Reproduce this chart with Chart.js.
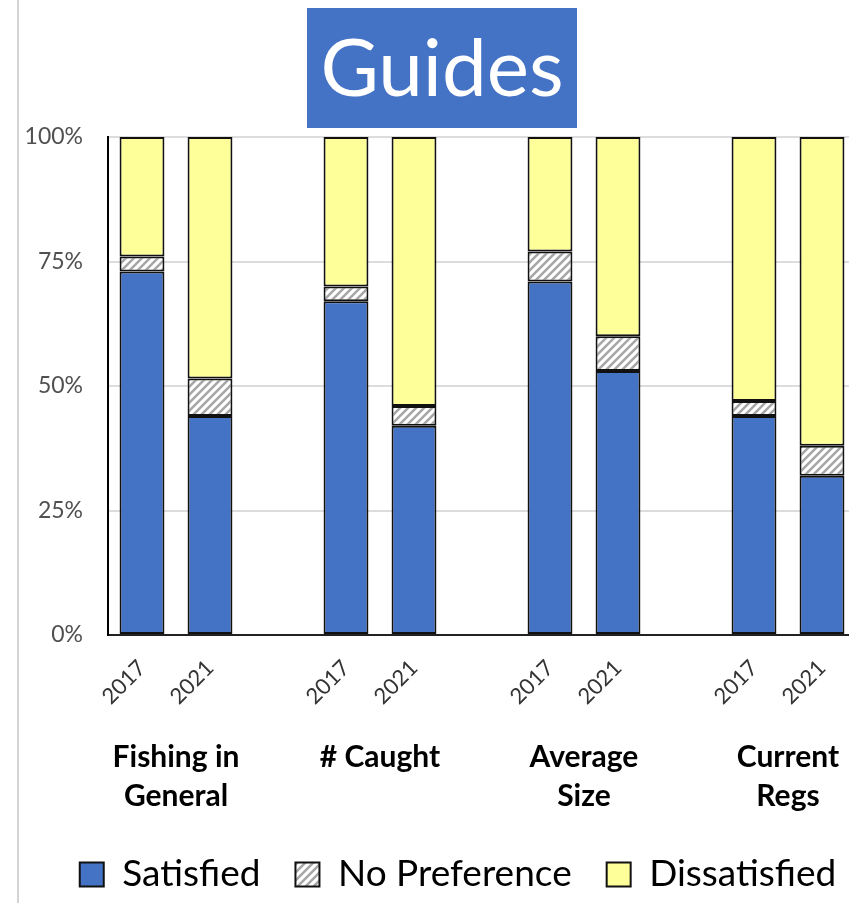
<!DOCTYPE html>
<html>
<head>
<meta charset="utf-8">
<title>Guides</title>
<script src="https://cdn.jsdelivr.net/npm/chart.js@4.4.1/dist/chart.umd.min.js"></script>
<style>
  html, body { margin: 0; padding: 0; background: #fff; overflow: hidden; }
  canvas { display: block; }
</style>
</head>
<body>
<canvas id="guides-chart" width="856" height="903"></canvas>
<script>
// bars: 2017/2021 pairs, blank slot between groups
const yearLabels = ['2017', '2021', '', '2017', '2021', '', '2017', '2021', '', '2017', '2021'];
const groupNames = [['Fishing in', 'General'], ['# Caught'], ['Average', 'Size'], ['Current', 'Regs']];
const groupSlots = [[0, 1], [3, 4], [6, 7], [9, 10]];

const satisfied    = [73, 44, null, 67, 42, null, 71, 53, null, 44, 32];
const noPreference = [3, 7.5, null, 3, 4, null, 6, 7, null, 3, 6];
const dissatisfied = [24, 48.5, null, 30, 54, null, 23, 40, null, 53, 62];

const yTicks = [0, 25, 50, 75, 100];

function hatchPattern() {
    const c = document.createElement('canvas');
    c.width = 8; c.height = 8;
    const g = c.getContext('2d');
    g.fillStyle = '#ffffff';
    g.fillRect(0, 0, 8, 8);
    g.strokeStyle = '#a6a6a6';
    g.lineWidth = 2.5;
    g.beginPath();
    g.moveTo(-2, 10); g.lineTo(10, -2);
    g.moveTo(-6, 6); g.lineTo(6, -6);
    g.moveTo(2, 14); g.lineTo(14, 2);
    g.stroke();
    return g.createPattern(c, 'repeat');
}

const barStyle = {
    borderColor: '#111111',
    borderWidth: 2,
    borderSkipped: false,
    barPercentage: 0.66,
    categoryPercentage: 1.0
};

// frame line on the left, title box, group names under the years
const decorPlugin = {
    id: 'decor',
    afterLayout(chart) {
        // legend sits a bit right of the canvas centre in the original
        chart.legend.left += 30;
        chart.legend.right += 30;
    },
    beforeDraw(chart) {
        const ctx = chart.ctx;
        ctx.save();
        ctx.strokeStyle = '#d4d4d4';
        ctx.lineWidth = 2;
        ctx.beginPath();
        ctx.moveTo(18, 0);
        ctx.lineTo(18, chart.height);
        ctx.stroke();

        ctx.fillStyle = '#4472C4';
        ctx.fillRect(307, 8, 270, 120);
        ctx.fillStyle = '#ffffff';
        ctx.font = '80px Lato';
        ctx.textAlign = 'center';
        ctx.textBaseline = 'middle';
        ctx.fillText('Guides', 442, 70);
        ctx.restore();
    },
    afterDraw(chart) {
        const ctx = chart.ctx;
        const x = chart.scales.x;
        const bottom = chart.chartArea.bottom;
        ctx.save();
        ctx.fillStyle = '#000000';
        ctx.font = 'bold 30px Lato';
        ctx.textAlign = 'center';
        ctx.textBaseline = 'middle';
        groupNames.forEach((lines, i) => {
            const cx = (x.getPixelForValue(groupSlots[i][0]) + x.getPixelForValue(groupSlots[i][1])) / 2;
            lines.forEach((line, j) => {
                ctx.fillText(line, cx, bottom + 122 + j * 39);
            });
        });
        ctx.restore();
    }
};

const ctx = document.getElementById('guides-chart').getContext('2d');
const guidesChart = new Chart(ctx, {
    type: 'bar',
    data: {
        labels: yearLabels,
        datasets: [
            Object.assign({ label: 'Satisfied', data: satisfied, backgroundColor: '#4472C4' }, barStyle),
            Object.assign({ label: 'No Preference', data: noPreference, backgroundColor: hatchPattern() }, barStyle),
            Object.assign({ label: 'Dissatisfied', data: dissatisfied, backgroundColor: '#FFFF99' }, barStyle)
        ]
    },
    options: {
        responsive: false,
        animation: false,
        layout: { padding: { top: 137, left: 0, right: 0, bottom: 0 } },
        plugins: {
            tooltip: { enabled: false },
            title: { display: false },
            legend: {
                position: 'bottom',
                labels: {
                    boxWidth: 24,
                    boxHeight: 24,
                    padding: 35,
                    color: '#000000',
                    font: { family: 'Lato', size: 37 }
                }
            }
        },
        scales: {
            x: {
                stacked: true,
                grid: { display: false },
                border: { display: true, color: '#222222', width: 2 },
                ticks: {
                    autoSkip: false,
                    minRotation: 45,
                    maxRotation: 45,
                    padding: 12,
                    color: '#333333',
                    font: { family: 'Lato', size: 22 }
                },
                afterFit(s) {
                    s.height = s.chart.height - 635 - s.chart.legend.height;
                }
            },
            y: {
                stacked: true,
                min: 0,
                max: 100,
                afterBuildTicks(s) {
                    s.ticks = yTicks.map(v => ({ value: v }));
                },
                grid: { color: '#dcdcdc', lineWidth: 2, drawTicks: false },
                border: { display: true, color: '#000000', width: 2 },
                ticks: {
                    padding: 25,
                    color: '#505050',
                    font: { family: 'Lato', size: 23 },
                    callback: v => v + '%'
                },
                afterFit(s) {
                    s.width = 108;
                }
            }
        }
    },
    plugins: [decorPlugin]
});
</script>
</body>
</html>
